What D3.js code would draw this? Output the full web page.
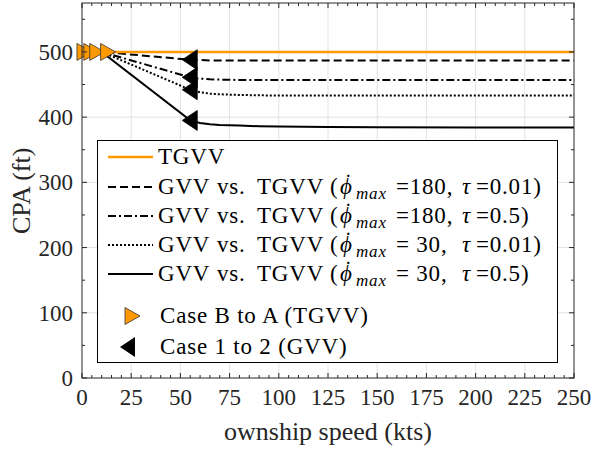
<!DOCTYPE html>
<html>
<head>
<meta charset="utf-8">
<script src="https://cdn.jsdelivr.net/npm/d3@7"></script>
<style>
  body { margin: 0; background: #fff; }
  svg text { font-family: "Liberation Serif", "Times New Roman", serif; fill: #262626; }
  svg .lgtext { fill: #000; letter-spacing: 0.8px; }
</style>
</head>
<body>
<div id="chart"></div>
<script>
// speeds where the CPA curves were sampled (kts)
var speeds = [0, 10, 55, 60, 65, 70, 80, 90, 100, 125, 150, 200, 250];
// CPA values (ft) for each case
var tgvv       = [500, 500, 500, 500, 500, 500, 500, 500, 500, 500, 500, 500, 500];
var gvv180_001 = [500, 500, 488, 487.5, 487, 487, 487, 487, 487, 487, 487, 487, 487];
var gvv180_05  = [500, 500, 461, 459, 458, 457.5, 457, 457, 457, 457, 457, 457, 457];
var gvv30_001  = [500, 500, 442, 438, 436, 435, 434, 433.5, 433, 433, 433, 433, 433];
var gvv30_05   = [500, 500, 395, 391, 389, 388, 387, 386, 385.5, 385, 384.5, 384, 384];

// switch points
var caseBA_speed = [1, 4.5, 7.5, 13];
var caseBA_cpa   = [500, 500, 500, 500];
var case12_speed = [55, 55, 55, 55];
var case12_cpa   = [488, 461, 442, 395];

var xTicks = [0, 25, 50, 75, 100, 125, 150, 175, 200, 225, 250];
var yTicks = [0, 100, 200, 300, 400, 500];

var legendLabels = [
    {phi: "180", tau: "0.01"},
    {phi: "180", tau: "0.5"},
    {phi: " 30", tau: "0.01"},
    {phi: " 30", tau: "0.5"}
];

var W = 594, H = 451;
var margin = {left: 82, right: 20, top: 3, bottom: 73};

var svg = d3.select("#chart").append("svg")
    .attr("width", W).attr("height", H);

var x = d3.scaleLinear().domain([0, 250]).range([margin.left, W - margin.right]);
var y = d3.scaleLinear().domain([0, 575]).range([H - margin.bottom, margin.top]);

var axisColor = "#262626";

// grid
svg.append("g").selectAll("line.gx")
    .data(xTicks.slice(1, -1)).enter().append("line")
    .attr("x1", d => x(d)).attr("x2", d => x(d))
    .attr("y1", y(0)).attr("y2", y(575))
    .attr("stroke", "#e3e3e3").attr("stroke-width", 1);
svg.append("g").selectAll("line.gy")
    .data(yTicks.slice(1)).enter().append("line")
    .attr("x1", x(0)).attr("x2", x(250))
    .attr("y1", d => y(d)).attr("y2", d => y(d))
    .attr("stroke", "#e3e3e3").attr("stroke-width", 1);

// curves
var line = d3.line().x(d => x(d[0])).y(d => y(d[1]));
function pts(vals) { return speeds.map((s, i) => [s, vals[i]]); }

var series = [
    {vals: gvv180_001, dash: "8,4", color: "#000", w: 2},
    {vals: gvv180_05, dash: "8,3,2,3", color: "#000", w: 2},
    {vals: gvv30_001, dash: "2,2", color: "#000", w: 2},
    {vals: gvv30_05, dash: null, color: "#000", w: 2}
];
series.forEach(function(s) {
    svg.append("path")
        .attr("d", line(pts(s.vals)))
        .attr("fill", "none")
        .attr("stroke", s.color)
        .attr("stroke-width", s.w)
        .attr("stroke-dasharray", s.dash);
});
svg.append("path")
    .attr("d", line(pts(tgvv)))
    .attr("fill", "none")
    .attr("stroke", "#ff9900")
    .attr("stroke-width", 2.5);

// markers
function triRight(cx, cy) {
    return "M" + (cx - 7) + "," + (cy - 8.5) + "L" + (cx + 8) + "," + cy + "L" + (cx - 7) + "," + (cy + 8.5) + "Z";
}
function triLeft(cx, cy) {
    return "M" + (cx + 7) + "," + (cy - 10) + "L" + (cx - 8) + "," + cy + "L" + (cx + 7) + "," + (cy + 10) + "Z";
}
svg.append("g").selectAll("path")
    .data(caseBA_speed.map((s, i) => [s, caseBA_cpa[i]])).enter().append("path")
    .attr("d", d => triRight(x(d[0]), y(d[1])))
    .attr("fill", "#ff9900").attr("stroke", "#333").attr("stroke-width", 0.8);
svg.append("g").selectAll("path")
    .data(case12_speed.map((s, i) => [s, case12_cpa[i]])).enter().append("path")
    .attr("d", d => triLeft(x(d[0]), y(d[1])))
    .attr("fill", "#000").attr("stroke", "#000").attr("stroke-width", 0.8);

// axes box with inward ticks
var box = svg.append("g");
box.append("rect")
    .attr("x", x(0)).attr("y", y(575))
    .attr("width", x(250) - x(0)).attr("height", y(0) - y(575))
    .attr("fill", "none").attr("stroke", axisColor).attr("stroke-width", 1);

var xMinor = d3.range(0, 251, 5);
var yMinor = d3.range(0, 576, 50);
box.selectAll("line.xt").data(xMinor).enter().append("line")
    .attr("x1", d => x(d)).attr("x2", d => x(d))
    .attr("y1", y(0)).attr("y2", d => y(0) - (d % 25 === 0 ? 5 : 3))
    .attr("stroke", axisColor);
box.selectAll("line.xt2").data(xMinor).enter().append("line")
    .attr("x1", d => x(d)).attr("x2", d => x(d))
    .attr("y1", y(575)).attr("y2", d => y(575) + (d % 25 === 0 ? 5 : 3))
    .attr("stroke", axisColor);
box.selectAll("line.yt").data(yMinor).enter().append("line")
    .attr("y1", d => y(d)).attr("y2", d => y(d))
    .attr("x1", x(0)).attr("x2", d => x(0) + (d % 100 === 0 ? 5 : 3))
    .attr("stroke", axisColor);
box.selectAll("line.yt2").data(yMinor).enter().append("line")
    .attr("y1", d => y(d)).attr("y2", d => y(d))
    .attr("x1", x(250)).attr("x2", d => x(250) - (d % 100 === 0 ? 5 : 3))
    .attr("stroke", axisColor);

// tick labels
svg.append("g").selectAll("text").data(xTicks).enter().append("text")
    .attr("x", d => x(d)).attr("y", y(0) + 27)
    .attr("text-anchor", "middle").attr("font-size", 23)
    .text(d => d);
svg.append("g").selectAll("text").data(yTicks).enter().append("text")
    .attr("x", x(0) - 9).attr("y", d => y(d) + 8)
    .attr("text-anchor", "end").attr("font-size", 23)
    .text(d => d);

// axis titles
svg.append("text")
    .attr("x", (x(0) + x(250)) / 2).attr("y", 440)
    .attr("text-anchor", "middle").attr("font-size", 26)
    .text("ownship speed (kts)");
svg.append("text")
    .attr("transform", "translate(30," + y(287) + ") rotate(-90)")
    .attr("text-anchor", "middle").attr("font-size", 26)
    .text("CPA (ft)");

// legend
var lg = svg.append("g");
lg.append("rect")
    .attr("x", 97.5).attr("y", 140.5).attr("width", 460).attr("height", 222)
    .attr("fill", "#fff").attr("stroke", "#000").attr("stroke-width", 1);

var rowY = [157, 187, 216, 245, 274, 316, 347];
var fs = 23;

lg.append("line").attr("x1", 108).attr("x2", 153).attr("y1", rowY[0]).attr("y2", rowY[0])
    .attr("stroke", "#ff9900").attr("stroke-width", 2.5);
lg.append("text").attr("class", "lgtext").attr("x", 158).attr("y", rowY[0] + 7)
    .attr("font-size", fs).text("TGVV");

series.forEach(function(s, i) {
    var ry = rowY[i + 1], base = ry + 7;
    lg.append("line").attr("x1", 108).attr("x2", 153).attr("y1", ry).attr("y2", ry)
        .attr("stroke", s.color).attr("stroke-width", s.w).attr("stroke-dasharray", s.dash);
    var t = lg.append("text").attr("class", "lgtext").attr("x", 158).attr("y", base)
        .attr("font-size", fs);
    t.append("tspan").text("GVV");
    t.append("tspan").attr("x", 217).text("vs.");
    t.append("tspan").attr("x", 257).text("TGVV");
    t.append("tspan").attr("x", 330).text("(");
    t.append("tspan").attr("x", 340).attr("font-style", "italic").text("\u03d5");
    // dot accent over phi
    t.append("tspan").attr("x", 346.5).attr("dy", -17).attr("font-size", 14)
        .attr("font-weight", "bold").text(".");
    t.append("tspan").attr("x", 356).attr("dy", 22).attr("font-style", "italic")
        .attr("font-size", 17).text("max");
    t.append("tspan").attr("x", 396).attr("dy", -5)
        .text("=" + legendLabels[i].phi.replace(" ", "\u00a0") + ",");
    t.append("tspan").attr("x", 462).attr("font-style", "italic").text("\u03c4");
    t.append("tspan").attr("x", 476).text("=" + legendLabels[i].tau + ")");
});

lg.append("path").attr("d", triRight(132, rowY[5]))
    .attr("fill", "#ff9900").attr("stroke", "#333").attr("stroke-width", 0.8);
lg.append("text").attr("class", "lgtext").attr("x", 160).attr("y", rowY[5] + 7)
    .attr("font-size", fs).text("Case B to A (TGVV)");
lg.append("path").attr("d", triLeft(128, rowY[6]))
    .attr("fill", "#000");
lg.append("text").attr("class", "lgtext").attr("x", 160).attr("y", rowY[6] + 7)
    .attr("font-size", fs).text("Case 1 to 2 (GVV)");
</script>
</body>
</html>
